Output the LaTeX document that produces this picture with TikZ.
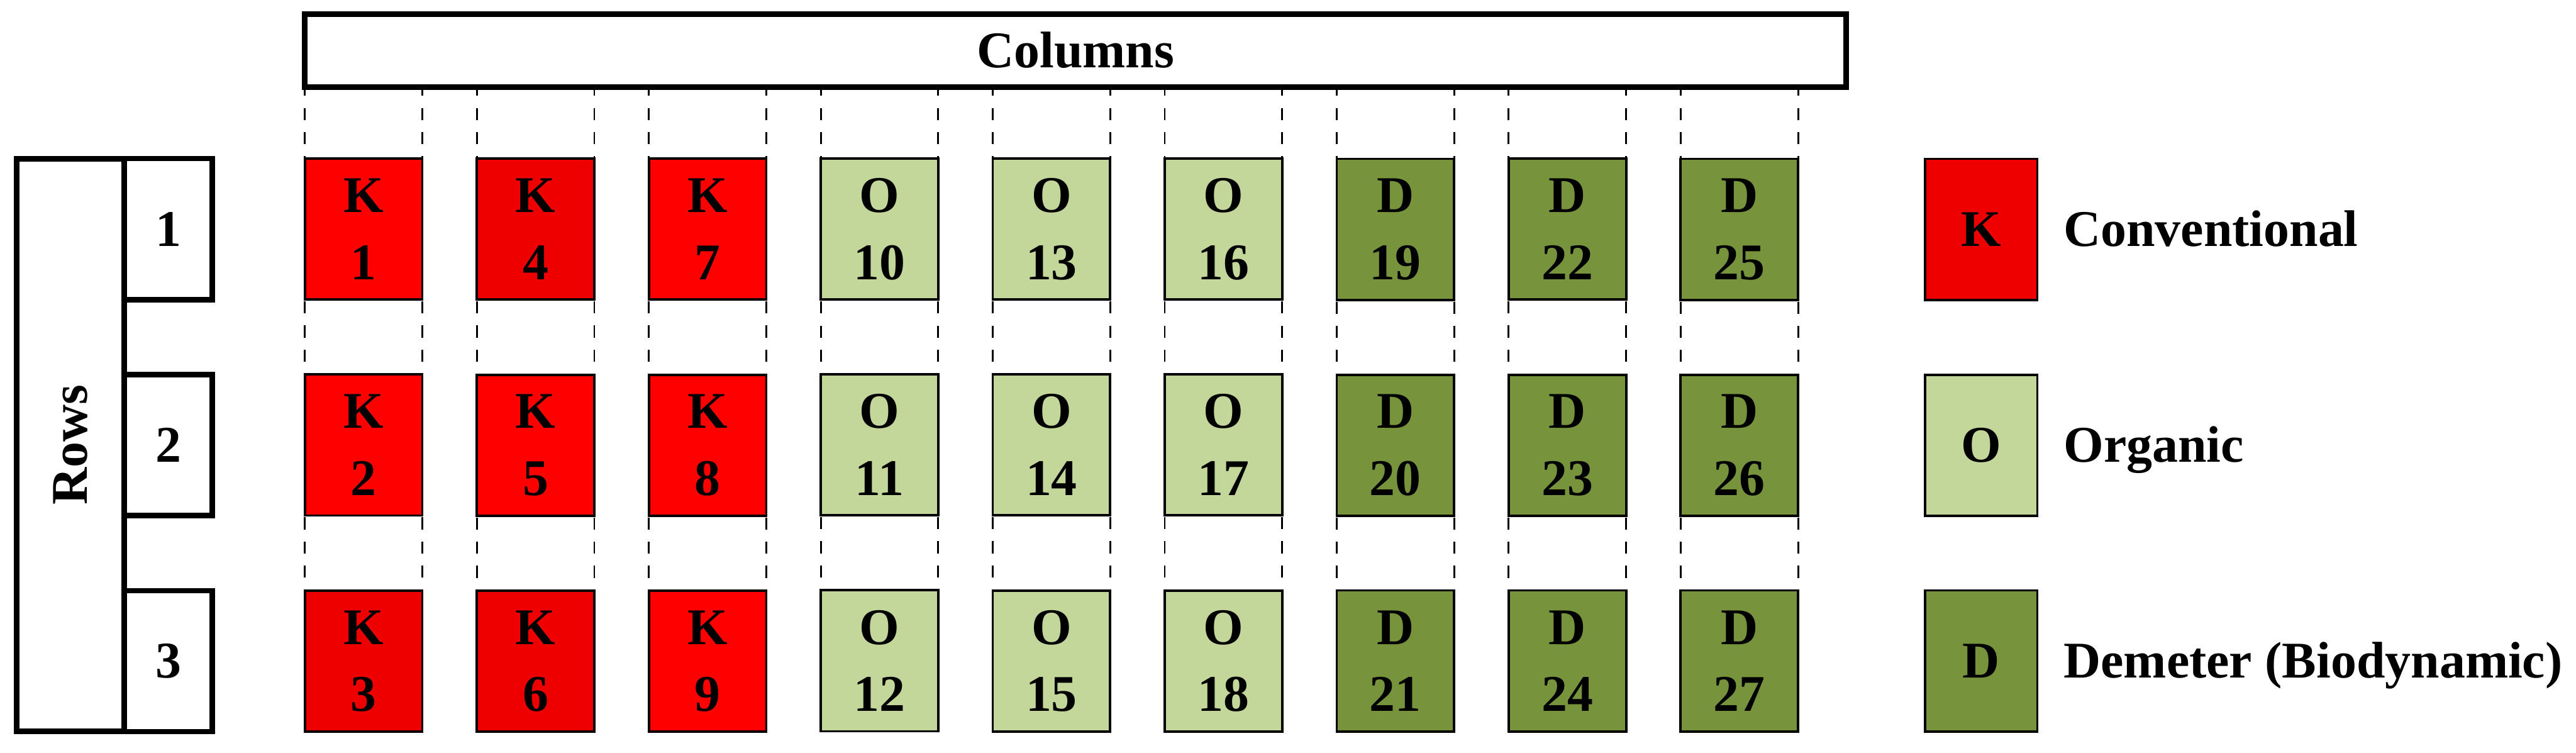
\documentclass[tikz,border=0pt]{standalone}
\usepackage{fontspec}
\setmainfont{Liberation Serif}
\usepackage{graphicx}
\usetikzlibrary{matrix, positioning}

\definecolor{convred}{HTML}{FF0000}
\definecolor{convdark}{HTML}{EE0000}
\definecolor{orglight}{HTML}{C4D79B}
\definecolor{demgreen}{HTML}{77933C}

\newcommand{\labelfont}{\fontsize{24.3}{31.7}\selectfont\bfseries}
\newcommand{\plotlbl}[2]{\vbox{\halign{\hfil##\hfil\cr#1\cr#2\cr}}}

\tikzset{
  plotbox/.style={draw, line width=0.04cm, outer sep=0pt, inner sep=0pt,
    minimum width=1.95cm, minimum height=2.34cm},
  conv/.style={plotbox, fill=convred},
  convd/.style={plotbox, fill=convdark},
  org/.style={plotbox, fill=orglight},
  dem/.style={plotbox, fill=demgreen},
  headbox/.style={draw, line width=0.09cm, outer sep=0pt, inner sep=0pt},
  capcentre/.style={text height=16.1pt, text depth=0pt},
  guide/.style={line width=0.03cm, dash pattern=on 0.2cm off 0.2cm}
}

\begin{document}
\begin{tikzpicture}[font=\labelfont]
  \useasboundingbox (0,0) rectangle (42.75,12.49);
  % plots
  \matrix (m) [matrix of nodes, inner sep=0pt, column sep=0.864cm, row sep=1.195cm,
      column 1/.style={nodes=conv}, column 2/.style={nodes=conv}, column 3/.style={nodes=conv},
      column 4/.style={nodes=org}, column 5/.style={nodes=org}, column 6/.style={nodes=org},
      column 7/.style={nodes=dem}, column 8/.style={nodes=dem}, column 9/.style={nodes=dem}]
      at (17.45,5.105) {
    \plotlbl{K}{1} & |[convd]| \plotlbl{K}{4} & \plotlbl{K}{7} & \plotlbl{O}{10} & \plotlbl{O}{13} & \plotlbl{O}{16} & \plotlbl{D}{19} & \plotlbl{D}{22} & \plotlbl{D}{25} \\
    \plotlbl{K}{2} & \plotlbl{K}{5} & \plotlbl{K}{8} & \plotlbl{O}{11} & \plotlbl{O}{14} & \plotlbl{O}{17} & \plotlbl{D}{20} & \plotlbl{D}{23} & \plotlbl{D}{26} \\
    |[convd]| \plotlbl{K}{3} & |[convd]| \plotlbl{K}{6} & \plotlbl{K}{9} & \plotlbl{O}{12} & \plotlbl{O}{15} & \plotlbl{O}{18} & \plotlbl{D}{21} & \plotlbl{D}{24} & \plotlbl{D}{27} \\
  };

  % headers
  \node[headbox, capcentre, minimum width=25.58cm, minimum height=1.21cm, anchor=south west]
    (cols) at ([yshift=1.185cm]m-1-1.north west) {Columns};
  \node[headbox, minimum width=1.46cm, minimum height=2.34cm, left=1.535cm of m-1-1] (r1) {1};
  \node[headbox, minimum width=1.46cm, minimum height=2.34cm, left=1.535cm of m-2-1] (r2) {2};
  \node[headbox, minimum width=1.46cm, minimum height=2.34cm, left=1.535cm of m-3-1] (r3) {3};
  \node[headbox, minimum width=1.79cm, minimum height=9.5cm, left=0cm of r2] (rows) {\rotatebox{90}{Rows}};

  % guides
  \foreach \j in {1,...,9} {
    \draw[guide, dash phase=0.055cm] (m-1-\j.north west |- cols.south) -- (m-1-\j.north west);
    \draw[guide, dash phase=0.055cm] (m-1-\j.north east |- cols.south) -- (m-1-\j.north east);
    \foreach \i/\k in {1/2, 2/3} {
      \draw[guide, dash phase=0.37cm] (m-\i-\j.south west) -- (m-\k-\j.north west);
      \draw[guide, dash phase=0.37cm] (m-\i-\j.south east) -- (m-\k-\j.north east);
    }
  }

  % legend
  \node[convd, minimum width=1.86cm, right=2.11cm of m-1-9] (keyk) {K};
  \node[org, minimum width=1.86cm, right=2.11cm of m-2-9] (keyo) {O};
  \node[dem, minimum width=1.86cm, right=2.11cm of m-3-9] (keyd) {D};
  \node[capcentre, inner sep=0pt, right=0.43cm of keyk] (lblk) {Conventional};
  \node[capcentre, inner sep=0pt, right=0.43cm of keyo] (lblo) {Organic};
  \node[capcentre, inner sep=0pt, right=0.43cm of keyd] (lbld) {Demeter (Biodynamic)};
\end{tikzpicture}
\end{document}
